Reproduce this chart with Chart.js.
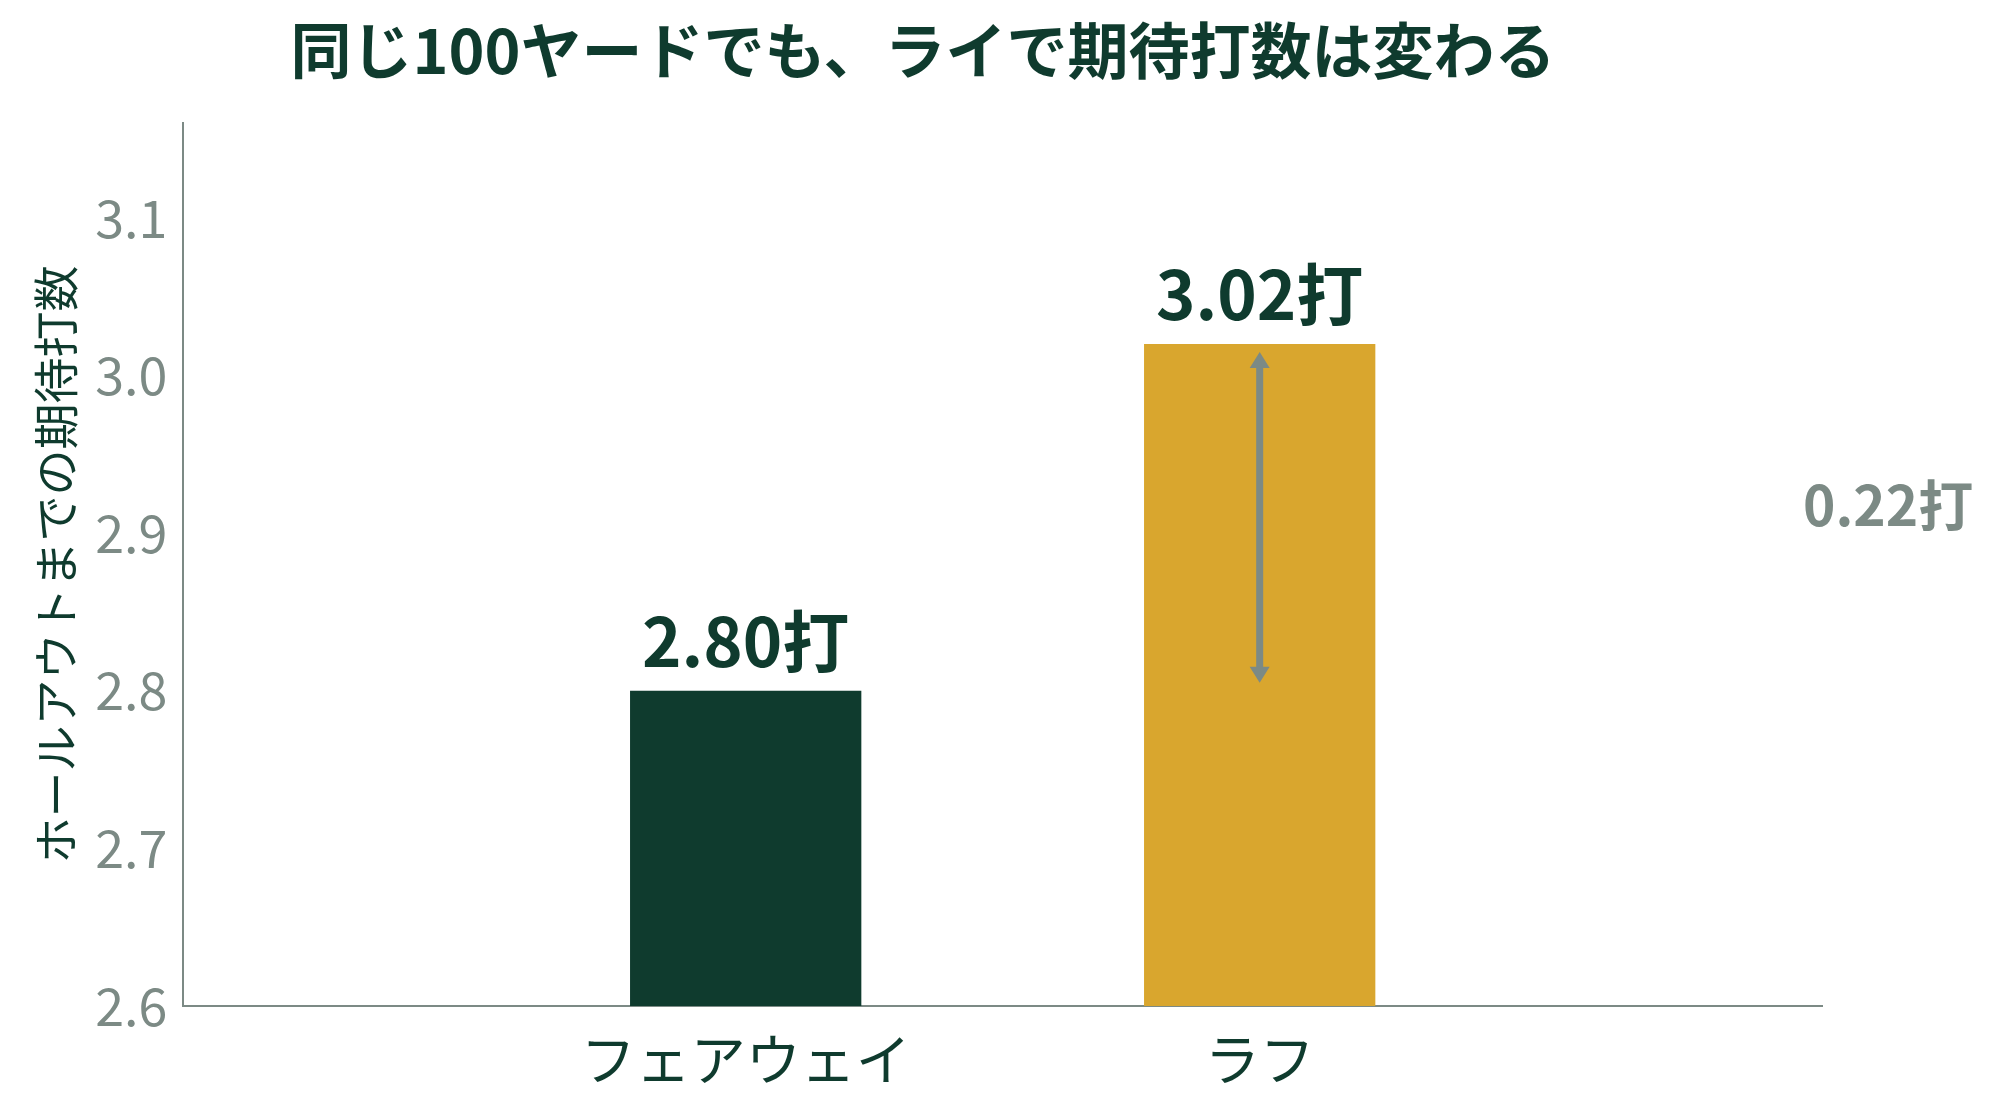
<!DOCTYPE html>
<html><head><meta charset="utf-8">
<script src="https://cdn.jsdelivr.net/npm/chart.js@4"></script>
<style>body{margin:0;background:#fff}#wrap{width:2000px;height:1120px}</style>
</head><body><div id="wrap"><canvas id="c"></canvas></div>
<script>
const categories = ['フェアウェイ', 'ラフ'];
const strokes = [2.80, 3.02];
const barColors = ['#0f3b2e', '#d9a62e'];
const title = '同じ100ヤードでも、ライで期待打数は変わる';
const yTitle = 'ホールアウトまでの期待打数';
const FONT = '"Noto Sans CJK JP", "Noto Sans", sans-serif';

// 値ラベルと差分の矢印
const annotate = {
  id: 'annotate',
  afterDatasetsDraw(chart) {
    const { ctx, scales: { x, y } } = chart;
    ctx.save();
    ctx.fillStyle = '#0f3b2e';
    ctx.font = 'bold 67px ' + FONT;
    ctx.textAlign = 'center';
    ctx.textBaseline = 'bottom';
    strokes.forEach((v, i) => ctx.fillText(v.toFixed(2) + '打', x.getPixelForValue(i), y.getPixelForValue(v) - 16));
    const ax = x.getPixelForValue(1), y1 = y.getPixelForValue(strokes[1]) + 8, y0 = y.getPixelForValue(strokes[0]) - 8;
    ctx.strokeStyle = ctx.fillStyle = '#7c8a85';
    ctx.lineWidth = 7;
    ctx.beginPath(); ctx.moveTo(ax, y1 + 10); ctx.lineTo(ax, y0 - 10); ctx.stroke();
    [[y1, 1], [y0, -1]].forEach(([py, d]) => {
      ctx.beginPath(); ctx.moveTo(ax, py); ctx.lineTo(ax - 10, py + 16 * d); ctx.lineTo(ax + 10, py + 16 * d); ctx.closePath(); ctx.fill();
    });
    ctx.font = 'bold 55px ' + FONT;
    ctx.textAlign = 'left';
    ctx.textBaseline = 'middle';
    ctx.fillText((strokes[1] - strokes[0]).toFixed(2) + '打', 1803, y.getPixelForValue((strokes[0] + strokes[1]) / 2) - 12);
    ctx.restore();
  }
};

new Chart(document.getElementById('c'), {
  type: 'bar',
  data: { datasets: [{ data: strokes.map((v, i) => ({ x: i, y: v })), backgroundColor: barColors, categoryPercentage: 1, barPercentage: 0.45 }] },
  options: {
    responsive: true, maintainAspectRatio: false, animation: false,
    layout: { padding: { left: 24, right: 178, top: 0, bottom: 20 } },
    plugins: {
      legend: { display: false }, tooltip: { enabled: false },
      title: { display: true, text: title, color: '#0f3b2e', font: { family: FONT, size: 61, weight: 'bold' }, padding: { top: 14, bottom: 36 } }
    },
    scales: {
      x: {
        type: 'linear', min: -0.297, max: 1.297,
        afterBuildTicks: s => { s.ticks = categories.map((_, i) => ({ value: i })); },
        grid: { display: false, drawTicks: true, tickLength: 12, color: '#7c8a85' },
        border: { color: '#7c8a85', width: 2 },
        ticks: { color: '#0f3b2e', font: { family: FONT, size: 55 }, padding: 8, callback: v => categories[v] ?? '' }
      },
      y: {
        min: 2.6, max: 3.16,
        grid: { display: false },
        border: { color: '#7c8a85', width: 2 },
        ticks: { stepSize: 0.1, color: '#7c8a85', font: { family: FONT, size: 52 }, padding: 8,
          callback: v => Math.abs(v * 10 - Math.round(v * 10)) < 1e-6 ? v.toFixed(1) : '' },
        title: { display: true, text: yTitle, color: '#0f3b2e', font: { family: FONT, size: 46 } }
      }
    }
  },
  plugins: [annotate]
});
</script></body></html>
